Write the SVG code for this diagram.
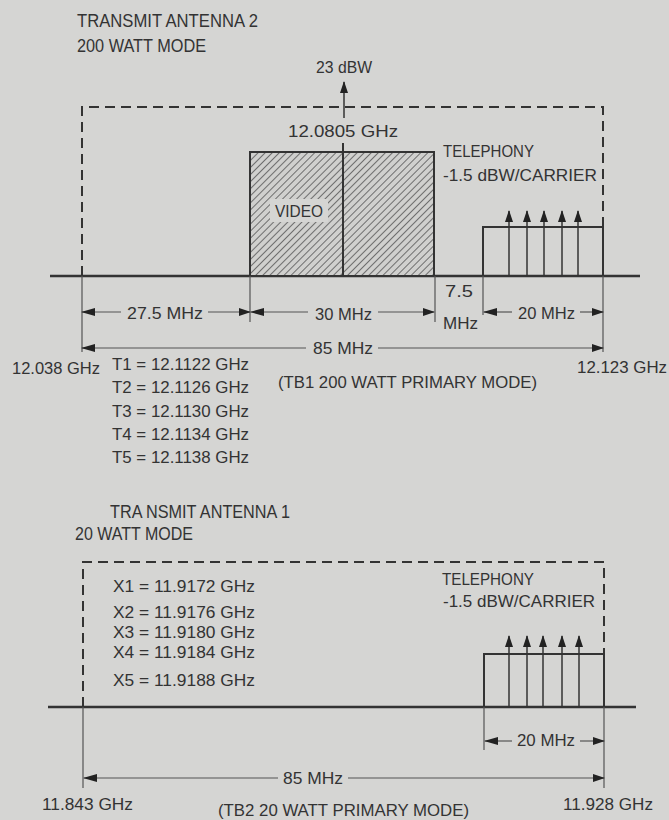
<svg xmlns="http://www.w3.org/2000/svg" width="669" height="820" viewBox="0 0 669 820">
<defs>
<style>
.t{font-family:"Liberation Sans",Arial,sans-serif;font-size:17px;fill:#333}
.tt{font-size:18px}
.ax{stroke:#333;stroke-width:2.5;fill:none}
.ds{stroke:#333;stroke-width:2;fill:none;stroke-dasharray:10 6}
.bx{stroke:#333;stroke-width:2;fill:none}
.vb{stroke:#333;stroke-width:2;fill:url(#hatch)}
.ex{stroke:#555;stroke-width:1.2;fill:none}
.dm{stroke:#555;stroke-width:1.2;fill:none}
.car{stroke:#333;stroke-width:1.5;fill:none;marker-end:url(#ah)}
</style>
<marker id="ah" markerUnits="userSpaceOnUse" markerWidth="12" markerHeight="8" refX="11" refY="4" orient="auto"><path d="M0,0 L12,4 L0,8 Z" fill="#222"/></marker>
<marker id="as" markerUnits="userSpaceOnUse" markerWidth="14" markerHeight="8" refX="1" refY="4" orient="auto"><path d="M14,0 L0,4 L14,8 Z" fill="#222"/></marker>
<pattern id="hatch" patternUnits="userSpaceOnUse" width="5" height="5" patternTransform="rotate(45)"><rect width="5" height="5" fill="#d0d0ce"/><line x1="0" y1="0" x2="0" y2="5" stroke="#555" stroke-width="1.6"/></pattern>
</defs>
<rect width="669" height="820" fill="#d5d5d3"/>

<g id="upper-title">
<text class="t tt" x="77" y="27" textLength="181" lengthAdjust="spacingAndGlyphs">TRANSMIT ANTENNA 2</text>
<text class="t tt" x="77" y="52" textLength="129" lengthAdjust="spacingAndGlyphs">200 WATT MODE</text>
</g>

<g id="upper-band">
<path class="ds" d="M82,276 V107 H603 V227"/>
<path class="ax" d="M50,276 H640"/>
</g>

<g id="video">
<rect x="250" y="152" width="184" height="124" class="vb"/>
<line x1="343" y1="143" x2="343" y2="276" stroke="#333" stroke-width="2"/>
<rect x="270" y="199" width="58" height="23" fill="#d5d5d3"/>
<text class="t" x="275" y="217" textLength="48" lengthAdjust="spacingAndGlyphs">VIDEO</text>
<line x1="344" y1="118" x2="344" y2="82" class="car"/>
<text class="t" x="344" y="73" text-anchor="middle" textLength="56" lengthAdjust="spacingAndGlyphs">23 dBW</text>
<text class="t" x="343" y="137" text-anchor="middle" textLength="110" lengthAdjust="spacingAndGlyphs">12.0805 GHz</text>
</g>

<g id="telephony-upper">
<path class="bx" d="M483,276 V227 H603 V276"/>
<line class="car" x1="509" y1="276" x2="509" y2="211"/>
<line class="car" x1="527" y1="276" x2="527" y2="211"/>
<line class="car" x1="544" y1="276" x2="544" y2="211"/>
<line class="car" x1="562" y1="276" x2="562" y2="211"/>
<line class="car" x1="578" y1="276" x2="578" y2="211"/>
<text class="t" x="443" y="157" textLength="91" lengthAdjust="spacingAndGlyphs">TELEPHONY</text>
<text class="t" x="443" y="181" textLength="154" lengthAdjust="spacingAndGlyphs">-1.5 dBW/CARRIER</text>
</g>

<g id="upper-dimensions">
<path class="ex" d="M82,276 V352 M250,276 V322 M435,276 V322 M483,276 V315 M603,276 V352"/>
<line class="dm" x1="82" y1="312" x2="121" y2="312" marker-start="url(#as)"/>
<line class="dm" x1="208" y1="312" x2="250" y2="312" marker-end="url(#ah)"/>
<line class="dm" x1="251" y1="312" x2="308" y2="312" marker-start="url(#as)"/>
<line class="dm" x1="378" y1="312" x2="434" y2="312" marker-end="url(#ah)"/>
<line class="dm" x1="484" y1="312" x2="512" y2="312" marker-start="url(#as)"/>
<line class="dm" x1="580" y1="312" x2="603" y2="312" marker-end="url(#ah)"/>
<line class="dm" x1="82" y1="348" x2="306" y2="348" marker-start="url(#as)"/>
<line class="dm" x1="378" y1="348" x2="603" y2="348" marker-end="url(#ah)"/>
<text class="t" x="127" y="319" textLength="76" lengthAdjust="spacingAndGlyphs">27.5 MHz</text>
<text class="t" x="315" y="320" textLength="57" lengthAdjust="spacingAndGlyphs">30 MHz</text>
<text class="t" x="445" y="297" textLength="28" lengthAdjust="spacingAndGlyphs">7.5</text>
<text class="t" x="443" y="329" textLength="35" lengthAdjust="spacingAndGlyphs">MHz</text>
<text class="t" x="518" y="319" textLength="57" lengthAdjust="spacingAndGlyphs">20 MHz</text>
<text class="t" x="313" y="354" textLength="60" lengthAdjust="spacingAndGlyphs">85 MHz</text>
<text class="t" x="12" y="374" textLength="88" lengthAdjust="spacingAndGlyphs">12.038 GHz</text>
<text class="t" x="577" y="373" textLength="90" lengthAdjust="spacingAndGlyphs">12.123 GHz</text>
<text class="t" x="278" y="388" textLength="259" lengthAdjust="spacingAndGlyphs">(TB1 200 WATT PRIMARY MODE)</text>
</g>

<g id="t-list">
<text class="t" x="112" y="370" textLength="137" lengthAdjust="spacingAndGlyphs">T1 = 12.1122 GHz</text>
<text class="t" x="112" y="393" textLength="137" lengthAdjust="spacingAndGlyphs">T2 = 12.1126 GHz</text>
<text class="t" x="112" y="417" textLength="137" lengthAdjust="spacingAndGlyphs">T3 = 12.1130 GHz</text>
<text class="t" x="112" y="440" textLength="137" lengthAdjust="spacingAndGlyphs">T4 = 12.1134 GHz</text>
<text class="t" x="112" y="463" textLength="137" lengthAdjust="spacingAndGlyphs">T5 = 12.1138 GHz</text>
</g>

<g id="lower-title">
<text class="t tt" x="110" y="518" textLength="180" lengthAdjust="spacingAndGlyphs">TRA NSMIT ANTENNA 1</text>
<text class="t tt" x="75" y="540" textLength="118" lengthAdjust="spacingAndGlyphs">20 WATT MODE</text>
</g>

<g id="lower-band">
<path class="ds" d="M83,707 V562 H604 V654"/>
<path class="ax" d="M48,707 H636"/>
</g>

<g id="x-list">
<text class="t" x="113" y="592" textLength="142" lengthAdjust="spacingAndGlyphs">X1 = 11.9172 GHz</text>
<text class="t" x="113" y="618" textLength="142" lengthAdjust="spacingAndGlyphs">X2 = 11.9176 GHz</text>
<text class="t" x="113" y="638" textLength="142" lengthAdjust="spacingAndGlyphs">X3 = 11.9180 GHz</text>
<text class="t" x="113" y="658" textLength="142" lengthAdjust="spacingAndGlyphs">X4 = 11.9184 GHz</text>
<text class="t" x="113" y="686" textLength="142" lengthAdjust="spacingAndGlyphs">X5 = 11.9188 GHz</text>
</g>

<g id="telephony-lower">
<path class="bx" d="M484,707 V654 H604 V707"/>
<line class="car" x1="509" y1="707" x2="509" y2="636"/>
<line class="car" x1="527" y1="707" x2="527" y2="636"/>
<line class="car" x1="543" y1="707" x2="543" y2="636"/>
<line class="car" x1="562" y1="707" x2="562" y2="636"/>
<line class="car" x1="579" y1="707" x2="579" y2="636"/>
<text class="t" x="442" y="585" textLength="92" lengthAdjust="spacingAndGlyphs">TELEPHONY</text>
<text class="t" x="443" y="607" textLength="152" lengthAdjust="spacingAndGlyphs">-1.5 dBW/CARRIER</text>
</g>

<g id="lower-dimensions">
<path class="ex" d="M83,707 V788 M484,707 V750 M604,707 V788"/>
<line class="dm" x1="485" y1="741" x2="512" y2="741" marker-start="url(#as)"/>
<line class="dm" x1="580" y1="741" x2="604" y2="741" marker-end="url(#ah)"/>
<line class="dm" x1="84" y1="778" x2="278" y2="778" marker-start="url(#as)"/>
<line class="dm" x1="348" y1="778" x2="604" y2="778" marker-end="url(#ah)"/>
<text class="t" x="517" y="746" textLength="58" lengthAdjust="spacingAndGlyphs">20 MHz</text>
<text class="t" x="283" y="784" textLength="60" lengthAdjust="spacingAndGlyphs">85 MHz</text>
<text class="t" x="42" y="810" textLength="91" lengthAdjust="spacingAndGlyphs">11.843 GHz</text>
<text class="t" x="563" y="810" textLength="90" lengthAdjust="spacingAndGlyphs">11.928 GHz</text>
<text class="t" x="218" y="816" textLength="251" lengthAdjust="spacingAndGlyphs">(TB2 20 WATT PRIMARY MODE)</text>
</g>
</svg>
